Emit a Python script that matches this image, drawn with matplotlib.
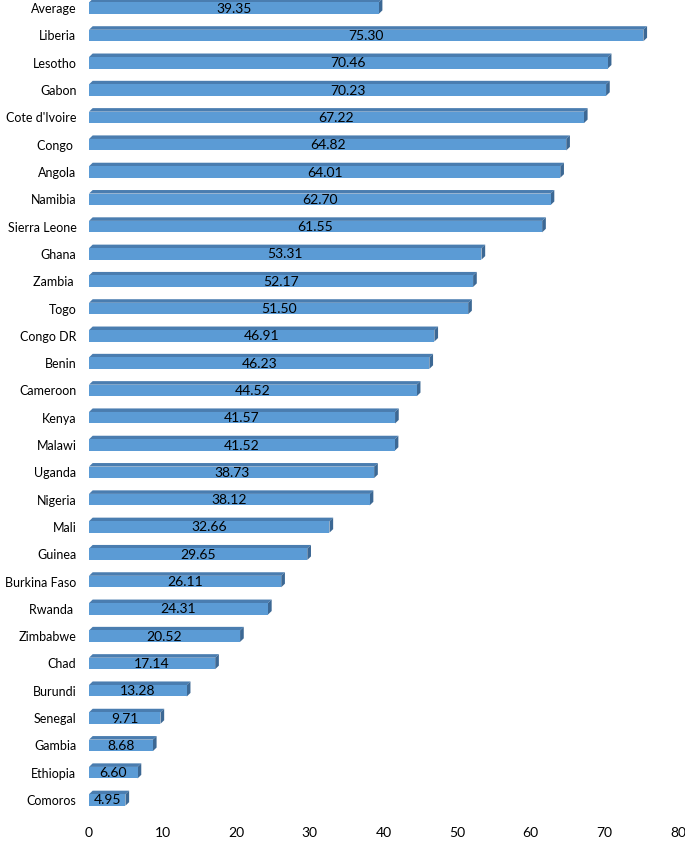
import matplotlib.pyplot as plt
from matplotlib.patches import Polygon

plt.rcParams['font.family'] = ['Lato', 'DejaVu Sans']

countries = ['Average', 'Liberia', 'Lesotho', 'Gabon', "Cote d'Ivoire", 'Congo ', 'Angola',
             'Namibia', 'Sierra Leone', 'Ghana', 'Zambia ', 'Togo', 'Congo DR', 'Benin',
             'Cameroon', 'Kenya', 'Malawi', 'Uganda', 'Nigeria', 'Mali', 'Guinea',
             'Burkina Faso', 'Rwanda ', 'Zimbabwe', 'Chad', 'Burundi', 'Senegal', 'Gambia',
             'Ethiopia', 'Comoros']
values = [39.35, 75.30, 70.46, 70.23, 67.22, 64.82, 64.01, 62.70, 61.55, 53.31, 52.17,
          51.50, 46.91, 46.23, 44.52, 41.57, 41.52, 38.73, 38.12, 32.66, 29.65, 26.11,
          24.31, 20.52, 17.14, 13.28, 9.71, 8.68, 6.60, 4.95]
xticks = [0, 10, 20, 30, 40, 50, 60, 70, 80]

front = '#5B9BD5'
top = '#4A7DB0'
side = '#3C6894'

fig = plt.figure(figsize=(6.85, 8.42), dpi=100)
ax = fig.add_axes([89 / 685, 28.4 / 842, 589 / 685, 813.6 / 842])

h = 0.42      # front face height (row units)
dx = 0.5      # depth in x data units
dy = 0.13     # depth in row units

for i, v in enumerate(values):
    y0 = i - h / 2
    y1 = i + h / 2
    ax.add_patch(Polygon([(0, y0), (v, y0), (v + dx, y0 - dy), (dx, y0 - dy)],
                         closed=True, facecolor=top, edgecolor='none', clip_on=False))
    ax.add_patch(Polygon([(v, y0), (v + dx, y0 - dy), (v + dx, y1 - dy), (v, y1)],
                         closed=True, facecolor=side, edgecolor='none', clip_on=False))
    ax.barh(i, v, height=h, color=front, edgecolor='none', clip_on=False)
    ax.text(v / 2, i + 0.02, f'{v:.2f}', ha='center', va='center', fontsize=10, color='black')

ax.set_ylim(29.5, -0.3)
ax.set_xlim(0, 80)
ax.set_yticks(range(len(countries)))
ax.set_yticklabels(countries, fontsize=9)
ax.set_xticks(xticks)
ax.set_xticklabels([str(t) for t in xticks], fontsize=10)
ax.tick_params(axis='y', length=0, pad=9)
ax.tick_params(axis='x', length=0, pad=10)
for s in ax.spines.values():
    s.set_visible(False)

fig.savefig('out.png', dpi=100)
